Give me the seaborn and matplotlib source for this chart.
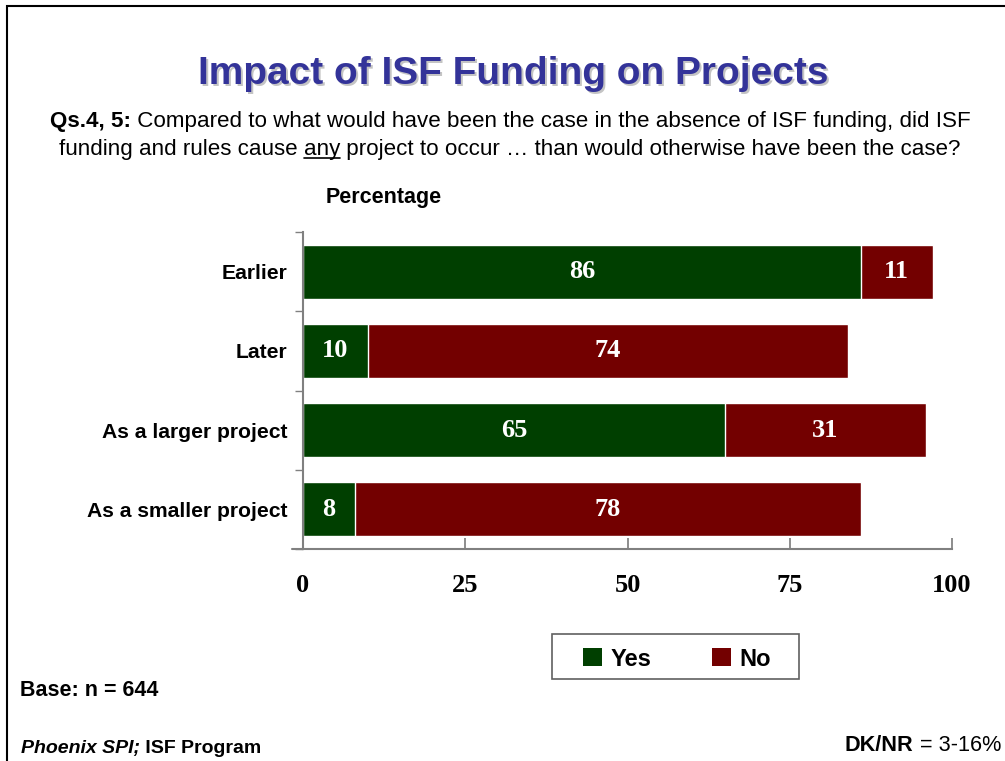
import matplotlib
matplotlib.use("Agg")
import matplotlib.pyplot as plt
import seaborn as sns
import pandas as pd
from matplotlib.patches import Rectangle, Patch
from matplotlib.lines import Line2D
from matplotlib.font_manager import FontProperties

categories = ["Earlier", "Later", "As a larger project", "As a smaller project"]
yes_values = [86, 10, 65, 8]
no_values = [11, 74, 31, 78]
x_ticks = [0, 25, 50, 75, 100]

GREEN = "#003f00"
RED = "#730000"
TITLE_BLUE = "#333399"
SANS = "Liberation Sans"
SERIF = "Liberation Serif"

sns.set_theme(style="white")
plt.rcParams["font.family"] = [SANS, "DejaVu Sans"]
plt.rcParams["text.color"] = "black"
plt.rcParams["xtick.color"] = "black"
plt.rcParams["ytick.color"] = "black"

W, H = 1005, 761
fig = plt.figure(figsize=(W / 100, H / 100), dpi=100)
fig.patch.set_facecolor("white")

# slide border (left and top visible)
fig.patches.append(Rectangle((7 / W, -0.05), 1.2, 1 - 6 / H + 0.05, transform=fig.transFigure,
                             fill=False, edgecolor="black", linewidth=1.5))

df = pd.DataFrame({"cat": categories, "yes": yes_values, "no": no_values})
df["total"] = df["yes"] + df["no"]

ax = fig.add_axes([303 / W, 1 - 549 / H, 649 / W, 317 / H])
sns.barplot(data=df, x="total", y="cat", color=RED, width=0.68, saturation=1, ax=ax, orient="h")
sns.barplot(data=df, x="yes", y="cat", color=GREEN, width=0.68, saturation=1, ax=ax, orient="h")

ax.set_xlim(0, 100)
ax.set_ylim(3.5, -0.5)
ax.set_xlabel("")
ax.set_ylabel("")
ax.set_xticks(x_ticks)
ax.set_xticklabels([str(t) for t in x_ticks], fontfamily=SERIF, fontweight="bold", fontsize=19)
ax.set_yticks(range(len(categories)))
ax.set_yticklabels(categories, fontfamily=SANS, fontweight="bold", fontsize=15.2)
ax.set_yticks([-0.5, 0.5, 1.5, 2.5, 3.5], minor=True)
ax.tick_params(axis="y", which="major", length=0, pad=11, labelcolor="black")
ax.tick_params(axis="y", which="minor", length=6, direction="out", color="#808080", left=True)
ax.tick_params(axis="x", which="major", length=8, direction="in", color="#808080", pad=18,
               bottom=True, labelcolor="black")
for s in ["top", "right"]:
    ax.spines[s].set_visible(False)
for s in ["left", "bottom"]:
    ax.spines[s].set_color("#808080")
    ax.spines[s].set_linewidth(1.5)
ax.add_line(Line2D([-0.017, 0], [0, 0], transform=ax.transAxes, color="#808080",
                   linewidth=1.5, clip_on=False))
ax.grid(False)

# segment labels
for i in range(len(categories)):
    y, n = yes_values[i], no_values[i]
    ax.text(y / 2, i, str(y), ha="center", va="center", color="white",
            fontfamily=SERIF, fontweight="bold", fontsize=19)
    ax.text(y + n / 2, i, str(n), ha="center", va="center", color="white",
            fontfamily=SERIF, fontweight="bold", fontsize=19)

# legend
handles = [Patch(facecolor=GREEN, edgecolor="none", label="Yes"),
           Patch(facecolor=RED, edgecolor="none", label="No")]
leg = fig.legend(handles=handles, loc="center", bbox_to_anchor=(677 / W, 1 - 659 / H), ncol=2,
                 frameon=False, borderpad=0.45, borderaxespad=0,
                 handlelength=0.78, handleheight=0.78, handletextpad=0.35, columnspacing=2.6,
                 prop=FontProperties(family=SANS, weight="bold", size=17))
for t in leg.get_texts():
    t.set_color("black")
fig.patches.append(Rectangle((552 / W, 1 - 679 / H), 247 / W, 45 / H, transform=fig.transFigure,
                             fill=False, edgecolor="#606060", linewidth=1.2))

renderer = fig.canvas.get_renderer()


def text_width(s, fp):
    w1, _, _ = renderer.get_text_width_height_descent("|" + s + "|", fp, ismath=False)
    w2, _, _ = renderer.get_text_width_height_descent("||", fp, ismath=False)
    return w1 - w2


def rich_line(y_px, pieces, x_px=None, align="center"):
    widths = [text_width(s, fp) for s, fp in pieces]
    total = sum(widths)
    if align == "center":
        start = x_px - total / 2
    elif align == "left":
        start = x_px
    else:
        start = x_px - total
    x = start
    out = []
    for (s, fp), w in zip(pieces, widths):
        t = fig.text(x / W, 1 - y_px / H, s, fontproperties=fp, ha="left", va="baseline", color="black")
        out.append((t, x, w))
        x += w
    return out


# title with shadow
TITLE = "Impact of ISF Funding on Projects"
fig.text(513 / W + 2 / W, 1 - 74 / H - 2 / H, TITLE, ha="center", va="center",
         fontfamily=SANS, fontweight="bold", fontsize=28, color="#c4c4c4")
fig.text(513 / W, 1 - 74 / H, TITLE, ha="center", va="center",
         fontfamily=SANS, fontweight="bold", fontsize=28, color=TITLE_BLUE)

fp_b = FontProperties(family=SANS, weight="bold", size=16.1)
fp_r = FontProperties(family=SANS, weight="normal", size=16.1)
rich_line(127, [("Qs.4, 5:", fp_b),
                (" Compared to what would have been the case in the absence of ISF funding, did ISF", fp_r)],
          x_px=510)
parts = rich_line(155, [("funding and rules cause ", fp_r), ("any", fp_r),
                        (" project to occur \u2026 than would otherwise have been the case?", fp_r)],
                  x_px=510)
_, ux, uw = parts[1]
fig.add_artist(Line2D([ux / W, (ux + uw) / W], [1 - 158 / H, 1 - 158 / H],
                      transform=fig.transFigure, color="black", linewidth=1.2))

fig.text(384 / W, 1 - 198 / H, "Percentage", ha="center", va="center",
         fontfamily=SANS, fontweight="bold", fontsize=15.5, color="black")

fig.text(20 / W, 1 - 690 / H, "Base: n = 644", ha="left", va="center",
         fontfamily=SANS, fontweight="bold", fontsize=15.5, color="black")

fp_bi = FontProperties(family=SANS, weight="bold", style="italic", size=14)
fp_b14 = FontProperties(family=SANS, weight="bold", size=14)
fp_b15 = FontProperties(family=SANS, weight="bold", size=15.6)
fp_r15 = FontProperties(family=SANS, weight="normal", size=15.6)
rich_line(753, [("Phoenix SPI;", fp_bi), (" ISF Program", fp_b14)], x_px=21, align="left")
rich_line(751, [("DK/NR", fp_b15), (" = 3-16%", fp_r15)], x_px=1001, align="right")

fig.savefig("out.png", dpi=100, facecolor="white")
